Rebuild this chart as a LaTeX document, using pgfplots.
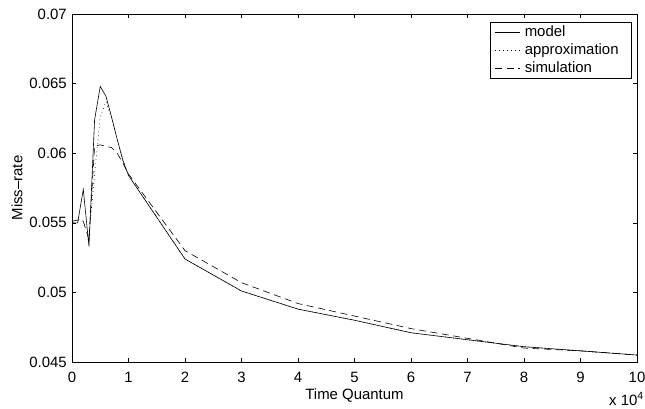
\documentclass[border=0pt]{standalone}
\usepackage{fontspec}
\setmainfont{Liberation Sans}
\usepackage{pgfplots}
\pgfplotsset{compat=1.18}
\begin{document}
\begin{tikzpicture}
\begin{axis}[
  scale only axis, width=565bp, height=348bp,
  xmin=0, xmax=10, ymin=0.045, ymax=0.07,
  scaled ticks=false,
  xtick={0,1,2,3,4,5,6,7,8,9,10},
  xticklabels={0,1,2,3,4,5,6,7,8,9,10},
  ytick={0.045,0.05,0.055,0.06,0.065,0.07},
  yticklabels={0.045,0.05,0.055,0.06,0.065,0.07},
  tick align=inside, major tick length=4.5bp,
  tick style={black, line width=0.5pt},
  axis line style={line width=0.8pt},
  font=\fontsize{15}{17}\selectfont,
  xticklabel style={inner sep=0pt, anchor=north, yshift=-10bp},
  yticklabel style={inner sep=0pt, anchor=east, xshift=-5bp},
  xlabel={Time Quantum},
  ylabel={Miss--rate},
  xlabel style={at={(axis description cs:0.5,-0.109)}, anchor=base, inner sep=0pt},
  ylabel style={at={(axis description cs:-0.0973,0.5)}, anchor=center, inner sep=0pt},
  legend style={at={(axis description cs:0.991,0.977)}, anchor=north east, draw=black, line width=0.6pt,
    font=\fontsize{15}{17}\selectfont, inner xsep=5bp, inner ysep=3.2bp, row sep=3.8bp,
    nodes={inner xsep=4bp, inner ysep=0pt, text height=11bp, text depth=3bp}},
  legend cell align=left,
  legend image code/.code={\draw[#1] (0bp,0bp) -- (25bp,0bp);},
]
\addplot[black, line width=0.6pt] coordinates {
(0,0.0550) (0.1,0.0550) (0.2,0.0574) (0.3,0.0533) (0.4,0.0624) (0.5,0.0648)
(0.6,0.0641) (0.7,0.0626) (0.8,0.0610) (0.9,0.0595) (1,0.0584) (2,0.0524)
(3,0.0501) (4,0.0488) (5,0.0480) (6,0.0471) (7,0.0466) (8,0.0461) (9,0.0458) (10,0.0455)};
\addlegendentry{model}
\addplot[black, line width=0.6pt, dash pattern=on 0.7bp off 3.3bp] coordinates {
(0,0.0550) (0.1,0.0553) (0.2,0.0551) (0.3,0.0541) (0.4,0.0585) (0.5,0.0626)
(0.6,0.0637) (0.7,0.0625) (0.8,0.0610) (0.9,0.0595) (1,0.0584) (2,0.0524)
(3,0.0501) (4,0.0488) (5,0.0480) (6,0.0471) (7,0.0466) (8,0.0461) (9,0.0458) (10,0.0455)};
\addlegendentry{approximation\hspace*{4bp}}
\addplot[black, line width=0.6pt, dash pattern=on 7bp off 4.5bp] coordinates {
(0,0.0551) (0.1,0.0552) (0.2,0.0551) (0.3,0.0538) (0.4,0.0605) (0.5,0.0606)
(0.6,0.0605) (0.7,0.0604) (0.8,0.0600) (0.9,0.0593) (1,0.0585) (2,0.0530)
(3,0.0507) (4,0.0492) (5,0.0483) (6,0.0474) (7,0.0467) (8,0.0460) (9,0.0458) (10,0.0455)};
\addlegendentry{simulation}
\coordinate (ll) at (rel axis cs:0,0);
\coordinate (ur) at (rel axis cs:1,1);
\end{axis}
\node[anchor=base east, font=\fontsize{15}{17}\selectfont, inner sep=0pt] at ([xshift=7bp,yshift=-43bp]ur |- ll) {x 10\textsuperscript{4}};
\pgfresetboundingbox
\path ([xshift=-72bp,yshift=-47bp]ll) rectangle ([xshift=8bp,yshift=14bp]ur);
\end{tikzpicture}
\end{document}
